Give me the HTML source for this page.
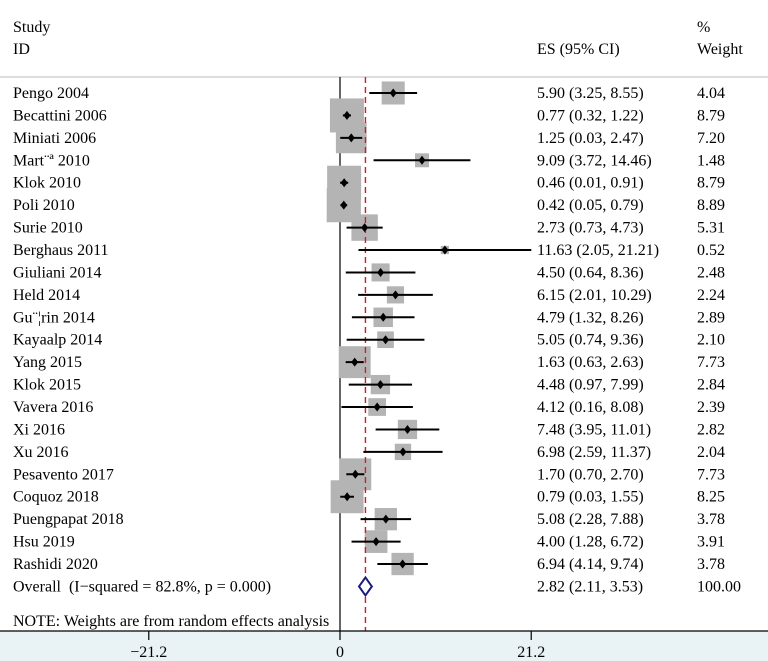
<!DOCTYPE html>
<html><head><meta charset="utf-8"><style>
html,body{margin:0;padding:0;background:#fff;}
svg{display:block;font-family:"Liberation Serif",serif;}
</style></head><body>
<svg id="chart" width="768" height="661" viewBox="0 0 768 661" xmlns="http://www.w3.org/2000/svg">
<rect x="0" y="631" width="768" height="30" fill="#e9f2f4"/>
<text x="13" y="32" font-size="16">Study</text>
<text x="13" y="54" font-size="16">ID</text>
<text x="537" y="54" font-size="16">ES (95% CI)</text>
<text x="697" y="32" font-size="16">%</text>
<text x="697" y="54" font-size="16">Weight</text>
<line x1="0" y1="77" x2="768" y2="77" stroke="#bbb" stroke-width="1"/>
<g id="rows"></g>
<line x1="0" y1="631" x2="768" y2="631" stroke="#000" stroke-width="1.2"/>
<g id="axis"></g>
</svg>
<script>
const studies=["Pengo 2004","Becattini 2006","Miniati 2006","Mart\u00a8\u00aa 2010","Klok 2010","Poli 2010","Surie 2010","Berghaus 2011","Giuliani 2014","Held 2014","Gu\u00a8\u00a6rin 2014","Kayaalp 2014","Yang 2015","Klok 2015","Vavera 2016","Xi 2016","Xu 2016","Pesavento 2017","Coquoz 2018","Puengpapat 2018","Hsu 2019","Rashidi 2020"];
const es=[5.90,0.77,1.25,9.09,0.46,0.42,2.73,11.63,4.50,6.15,4.79,5.05,1.63,4.48,4.12,7.48,6.98,1.70,0.79,5.08,4.00,6.94];
const lo=[3.25,0.32,0.03,3.72,0.01,0.05,0.73,2.05,0.64,2.01,1.32,0.74,0.63,0.97,0.16,3.95,2.59,0.70,0.03,2.28,1.28,4.14];
const hi=[8.55,1.22,2.47,14.46,0.91,0.79,4.73,21.21,8.36,10.29,8.26,9.36,2.63,7.99,8.08,11.01,11.37,2.70,1.55,7.88,6.72,9.74];
const wt=[4.04,8.79,7.20,1.48,8.79,8.89,5.31,0.52,2.48,2.24,2.89,2.10,7.73,2.84,2.39,2.82,2.04,7.73,8.25,3.78,3.91,3.78];
const overall=[2.82,2.11,3.53];
const ticks=[-21.2,0,21.2];
const NS="http://www.w3.org/2000/svg";
const X=v=>340+v*9.02;
const Y=i=>93+i*22.43;
function mk(t,a,p){const e=document.createElementNS(NS,t);for(const k in a)e.setAttribute(k,a[k]);(p||document.getElementById('rows')).appendChild(e);return e;}
let z=mk('line',{x1:X(0),y1:77,x2:X(0),y2:631,stroke:'#000','stroke-width':1.2});


studies.forEach((s,i)=>{
  const y=Y(i), side=11.47*Math.sqrt(wt[i]);
  const b=mk('rect',{x:X(es[i])-side/2,y:y-side/2,width:side,height:side,fill:'#b4b4b4'});
  
  
});
let d=mk('line',{x1:X(overall[0]),y1:77,x2:X(overall[0]),y2:631,stroke:'#c8202a','stroke-width':1.4,'stroke-dasharray':'6,4'});


studies.forEach((s,i)=>{
  const y=Y(i);
  const l=mk('line',{x1:X(lo[i]),y1:y,x2:X(hi[i]),y2:y,stroke:'#000','stroke-width':2});
  
  
  const cx=X(es[i]);
  const p=mk('polygon',{points:`${cx},${y-4.5} ${cx+3.5},${y} ${cx},${y+4.5} ${cx-3.5},${y}`,fill:'#000'});
  
  
  const t1=mk('text',{x:13,y:y+5,'font-size':16});t1.textContent=s;
  
  
  const t2=mk('text',{x:537,y:y+5,'font-size':16});t2.textContent=`${es[i].toFixed(2)} (${lo[i].toFixed(2)}, ${hi[i].toFixed(2)})`;
  
  
  const t3=mk('text',{x:697,y:y+5,'font-size':16});t3.textContent=wt[i].toFixed(2);
  
  
});
const oy=Y(22);
const dm=mk('polygon',{points:`${X(overall[1])},${oy} ${X(overall[0])},${oy-9} ${X(overall[2])},${oy} ${X(overall[0])},${oy+9}`,fill:'#fff',stroke:'#1a1a80','stroke-width':2});


let o1=mk('text',{x:13,y:oy+5,'font-size':16});o1.textContent='Overall\u00a0 (I\u2212squared = 82.8%, p = 0.000)';


let o2=mk('text',{x:537,y:oy+5,'font-size':16});o2.textContent=`${overall[0].toFixed(2)} (${overall[1].toFixed(2)}, ${overall[2].toFixed(2)})`;


let o3=mk('text',{x:697,y:oy+5,'font-size':16});o3.textContent='100.00';


let nt=mk('text',{x:13,y:626,'font-size':16});nt.textContent='NOTE: Weights are from random effects analysis';


const ax=document.getElementById('axis');
ticks.forEach(t=>{
  const tl=mk('line',{x1:X(t),y1:631,x2:X(t),y2:640,stroke:'#000','stroke-width':1.2},ax);
  
  
  const tt=mk('text',{x:X(t),y:657,'font-size':16,'text-anchor':'middle'},ax);
  tt.textContent=t===0?'0':(t<0?'\u2212'+Math.abs(t):String(t));
  
  
});
</script>
</body></html>
